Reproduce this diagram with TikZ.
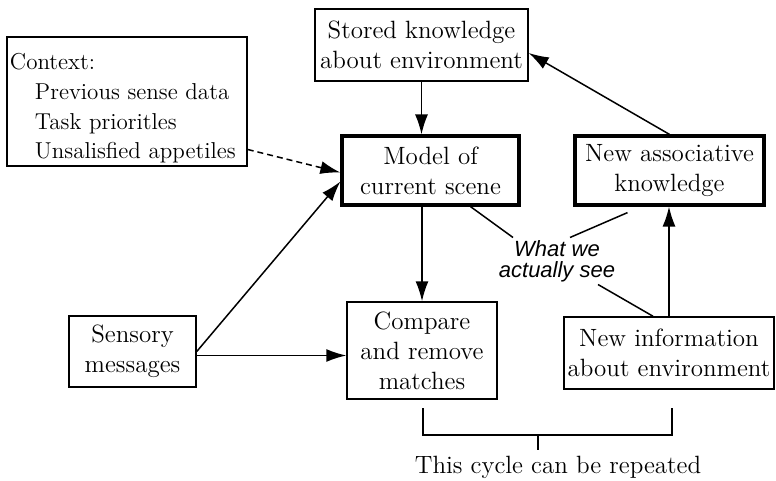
\documentclass[tikz,border=0pt]{standalone}
\usepackage{fontspec}
\newfontfamily\seefont{Liberation Sans}
\usetikzlibrary{arrows.meta}

\begin{document}
\begin{tikzpicture}[x=0.5pt,y=-0.5pt,line width=0.75pt,
    font=\fontsize{12.5}{15}\selectfont,
    box/.style={draw,align=center,inner sep=0pt},
    bold box/.style={box,line width=1.6pt},
    arr/.style={-{Latex[length=10pt,width=6.5pt]}}]
  \useasboundingbox (0,0) rectangle (776,481);
  % boxes
  \node[box,align=left,text width=117pt,inner xsep=1.5pt,inner ysep=1.5pt,
    font=\fontsize{11.5}{14.8}\selectfont] (ctx) at (127,101.5)
    {\rule{0pt}{15pt}Context:\\
     \hspace*{12.5pt}Previous sense data\\
     \hspace*{12.5pt}Task prioritles\\
     \hspace*{12.5pt}Unsalisfied appetiles};
  \node[box,minimum width=106.5pt,minimum height=36pt] (stored) at (421.5,45)
    {Stored knowledge\\about environment};
  \node[bold box,minimum width=88.5pt,minimum height=34.5pt] (model) at (430.5,170.5)
    {Model of\\current scene};
  \node[bold box,minimum width=94.5pt,minimum height=34.5pt] (assoc) at (669.5,170.5)
    {New associative\\knowledge};
  \node[box,minimum width=63.5pt,minimum height=35.5pt] (sensory) at (132.5,351.5)
    {Sensory\\messages};
  \node[box,minimum width=75pt,minimum height=48.5pt] (compare) at (422,350.5)
    {Compare\\and remove\\matches};
  \node[box,minimum width=105pt,minimum height=36pt] (newinfo) at (669,353)
    {New information\\about environment};
  \node[align=center,inner sep=1pt,font=\seefont\itshape\fontsize{11}{10.5}\selectfont]
    (see) at (557,261) {What we\\actually see};
  \node (cycle) at (558,467) {This cycle can be repeated};

  % arrows
  \draw[arr] (stored.south) -- (stored.south |- model.north);
  \draw[arr] (compare.north |- model.south) -- (compare.north);
  \draw[arr] (assoc.north) -- ([yshift=-4pt]stored.east);
  \draw[arr] (newinfo.north) -- (newinfo.north |- assoc.south);
  \draw[arr] (sensory.east) -- ([yshift=-5.5pt]model.west);
  \draw[arr] ([yshift=-2pt]sensory.east) -- ([yshift=-2pt]sensory.east -| compare.west);
  \draw[arr,dash pattern=on 3pt off 2pt] ([yshift=-24pt]ctx.east) -- ([yshift=-1pt]model.west);

  % lines to the label
  \draw ([xshift=20pt]model.south) -- ([xshift=-22pt]see.north);
  \draw ([xshift=-21pt,yshift=-3pt]assoc.south) -- ([xshift=6.5pt]see.north);
  \draw ([xshift=-8pt]newinfo.north) -- ([xshift=20.5pt]see.south);

  % bracket
  \coordinate (bl) at (423,408);
  \coordinate (br) at (672,408);
  \coordinate (bm) at (538,435);
  \draw (bl) -- ++(0,27) -| (br);
  \draw (bm) -- ++(0,15);
\end{tikzpicture}
\end{document}
